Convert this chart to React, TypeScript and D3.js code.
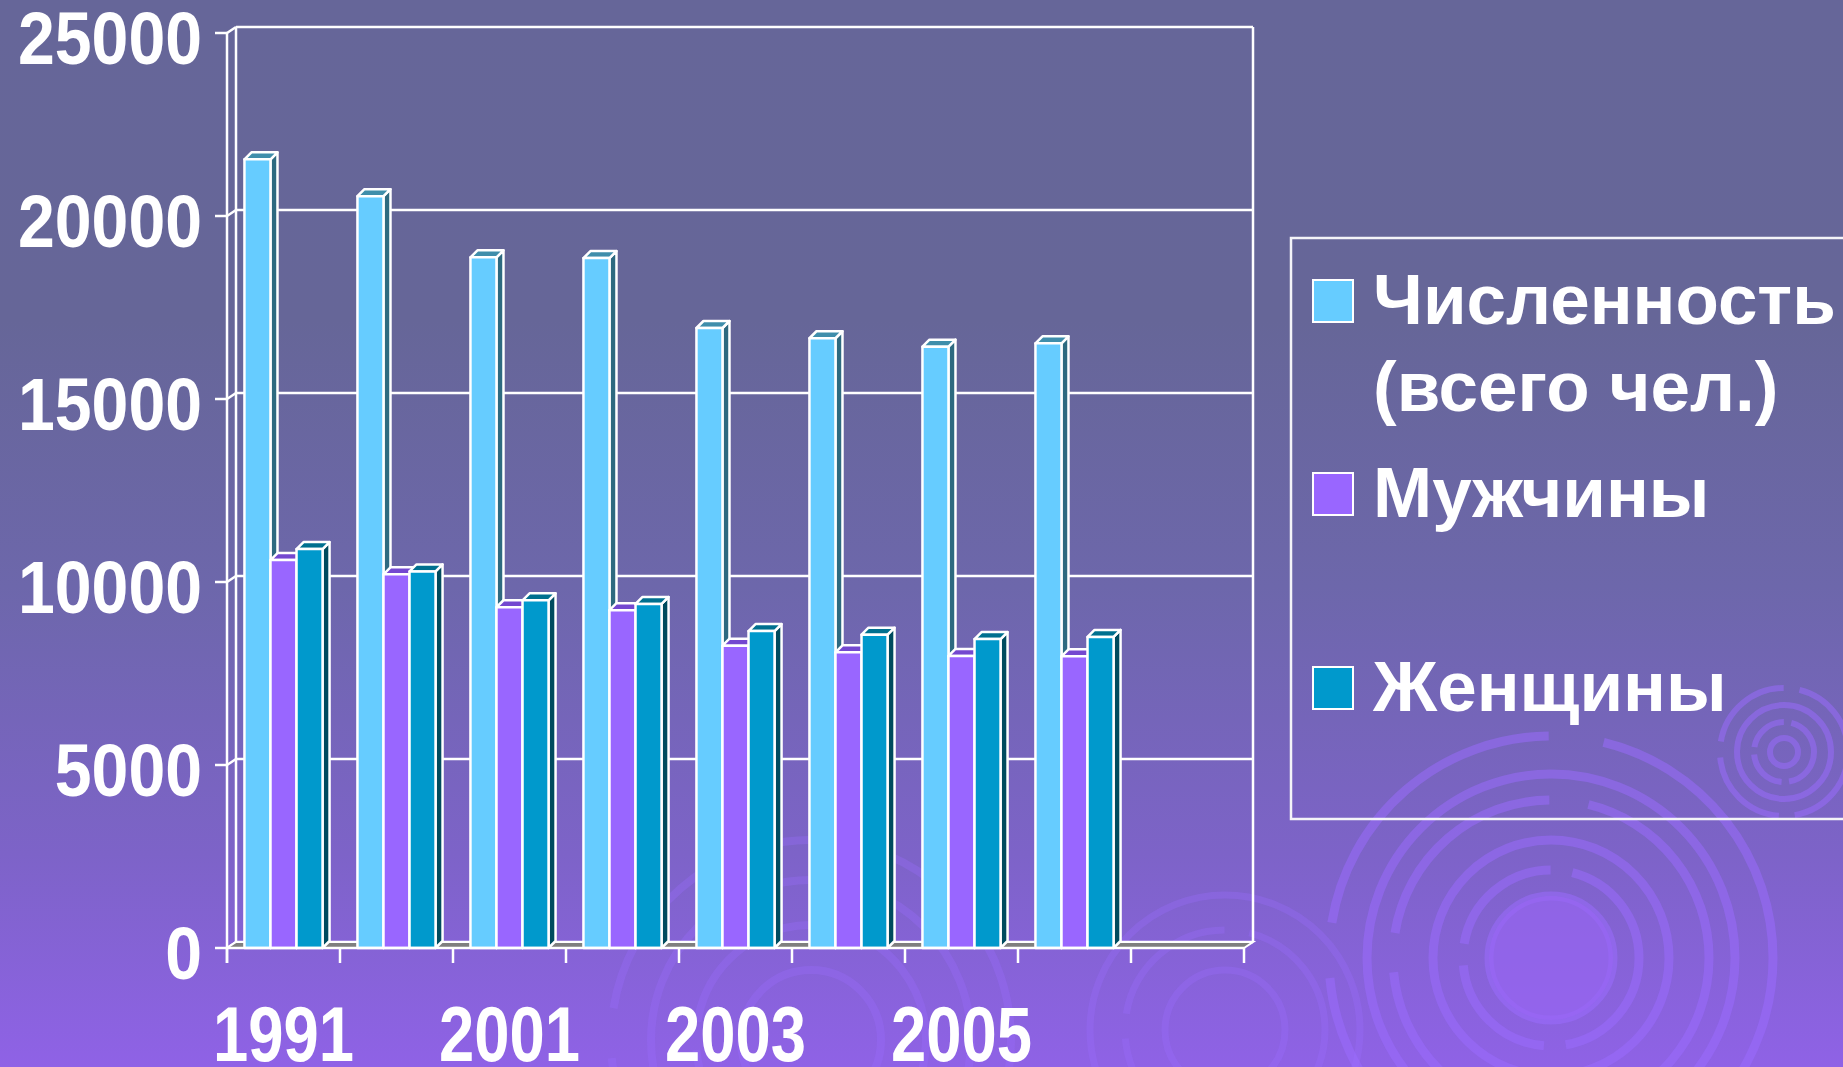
import { useEffect, useRef } from "react";
import * as d3 from "d3";

const years = ["1991", "2000", "2001", "2002", "2003", "2004", "2005", "2006", "2007"];
const labelledYears = ["1991", "2001", "2003", "2005"];
const seriesNames = ["Численность (всего чел.)", "Мужчины", "Женщины"];
const totalCount = [21550, 20540, 18870, 18850, 16940, 16660, 16430, 16520];
const menCount = [10600, 10210, 9310, 9230, 8260, 8080, 7980, 7970];
const womenCount = [10900, 10290, 9500, 9400, 8660, 8560, 8440, 8500];
const yTicks = [0, 5000, 10000, 15000, 20000, 25000];
const legendLines = [["Численность", "(всего чел.)"], ["Мужчины"], ["Женщины"]];

const palette: Record<string, { front: string; top: string; side: string }> = {
  "Численность (всего чел.)": { front: "#66CCFF", top: "#3F8EAB", side: "#2E6A80" },
  Мужчины: { front: "#9966FF", top: "#7448D0", side: "#5A37A8" },
  Женщины: { front: "#0099CC", top: "#00708F", side: "#004B5E" }
};

const font = "'Liberation Sans', Arial, sans-serif";

export default function App() {
  const svgRef = useRef<SVGSVGElement>(null);

  useEffect(() => {
    document.body.style.margin = "0";
    const svg = d3.select(svgRef.current);
    svg.selectAll("*").remove();

    const width = 1843;
    const height = 1067;
    const front = { left: 227, right: 1244, top: 33, bottom: 948 };
    const wall = { dx: 9, dy: -6 };
    const bar = { dx: 7, dy: -7 };

    const x = d3.scaleBand().domain(years).range([front.left, front.right]);
    const inner = d3
      .scaleBand()
      .domain(seriesNames)
      .range([0, x.bandwidth()])
      .paddingInner(0)
      .paddingOuter(0.67);
    const y = d3.scaleLinear().domain([0, 25000]).range([front.bottom, front.top]);

    const defs = svg.append("defs");
    const grad = defs
      .append("linearGradient")
      .attr("id", "bg")
      .attr("x1", 0)
      .attr("y1", 0)
      .attr("x2", 0)
      .attr("y2", 1);
    [
      [0, "#666699"],
      [0.3, "#666698"],
      [0.55, "#6d67ab"],
      [0.8, "#7d63c8"],
      [1, "#8f62e6"]
    ].forEach(([o, c]) => grad.append("stop").attr("offset", o as number).attr("stop-color", c as string));

    svg.append("rect").attr("width", width).attr("height", height).attr("fill", "url(#bg)");

    // decorative rings of the slide background
    const rings = svg.append("g").attr("fill", "none").attr("stroke", "#9b6cff");
    const ringSet = (cx: number, cy: number, radii: number[], sw: number, op: number) => {
      radii.forEach((r, i) => {
        rings
          .append("circle")
          .attr("cx", cx)
          .attr("cy", cy)
          .attr("r", r)
          .attr("stroke-width", sw)
          .attr("opacity", op)
          .attr("stroke-dasharray", i % 2 === 1 ? `${r * 1.4},${r * 0.25}` : null);
      });
    };
    svg
      .append("circle")
      .attr("cx", 1551)
      .attr("cy", 958)
      .attr("r", 62)
      .attr("fill", "#9a66f5")
      .attr("opacity", 0.6);
    ringSet(1551, 958, [62, 88, 118, 158, 184, 222], 9, 0.5);
    ringSet(1784, 752, [14, 30, 47, 64], 6, 0.5);
    ringSet(811, 1040, [70, 115, 160, 200], 8, 0.3);
    ringSet(1225, 1030, [60, 100, 135], 7, 0.3);

    // back wall and grid
    const wallLayer = svg.append("g").attr("stroke", "#ffffff").attr("stroke-width", 2.5).attr("fill", "none");
    yTicks.forEach((v) => {
      wallLayer
        .append("line")
        .attr("x1", front.left + wall.dx)
        .attr("x2", front.right + wall.dx)
        .attr("y1", y(v) + wall.dy)
        .attr("y2", y(v) + wall.dy);
      wallLayer
        .append("line")
        .attr("x1", front.left)
        .attr("x2", front.left + wall.dx)
        .attr("y1", y(v))
        .attr("y2", y(v) + wall.dy);
    });
    [front.left + wall.dx, front.right + wall.dx].forEach((xx) => {
      wallLayer
        .append("line")
        .attr("x1", xx)
        .attr("x2", xx)
        .attr("y1", y(25000) + wall.dy)
        .attr("y2", y(0) + wall.dy);
    });

    // floor
    svg
      .append("path")
      .attr(
        "d",
        `M${front.left},${y(0)} L${front.right},${y(0)} L${front.right + wall.dx},${y(0) + wall.dy} L${front.left + wall.dx},${y(0) + wall.dy} Z`
      )
      .attr("fill", "#7f7f7f")
      .attr("stroke", "#ffffff")
      .attr("stroke-width", 2);

    // bars
    const valuesBySeries = [totalCount, menCount, womenCount];
    const barLayer = svg
      .append("g")
      .attr("stroke", "#ffffff")
      .attr("stroke-width", 2.5)
      .attr("stroke-linejoin", "round");
    years.forEach((year, i) => {
      seriesNames.forEach((name, j) => {
        const v = valuesBySeries[j][i];
        if (v === undefined) return;
        const c = palette[name];
        const x0 = (x(year) as number) + (inner(name) as number);
        const x1 = x0 + inner.bandwidth();
        const yt = y(v);
        const yb = y(0);
        barLayer
          .append("path")
          .attr("d", `M${x1},${yt} L${x1 + bar.dx},${yt + bar.dy} L${x1 + bar.dx},${yb + bar.dy} L${x1},${yb} Z`)
          .attr("fill", c.side);
        barLayer
          .append("path")
          .attr("d", `M${x0},${yt} L${x0 + bar.dx},${yt + bar.dy} L${x1 + bar.dx},${yt + bar.dy} L${x1},${yt} Z`)
          .attr("fill", c.top);
        barLayer
          .append("rect")
          .attr("x", x0)
          .attr("y", yt)
          .attr("width", x1 - x0)
          .attr("height", yb - yt)
          .attr("fill", c.front);
      });
    });

    // axes
    const axis = svg.append("g").attr("stroke", "#ffffff").attr("stroke-width", 2.5);
    axis
      .append("line")
      .attr("x1", front.left)
      .attr("x2", front.left)
      .attr("y1", y(25000))
      .attr("y2", y(0) + 15);
    axis
      .append("line")
      .attr("x1", front.left)
      .attr("x2", front.right)
      .attr("y1", y(0))
      .attr("y2", y(0));
    yTicks.forEach((v) => {
      axis
        .append("line")
        .attr("x1", front.left - 12)
        .attr("x2", front.left)
        .attr("y1", y(v))
        .attr("y2", y(v));
    });
    [...years.map((yr) => x(yr) as number), front.right].forEach((xx) => {
      axis
        .append("line")
        .attr("x1", xx)
        .attr("x2", xx)
        .attr("y1", y(0))
        .attr("y2", y(0) + 15);
    });

    // tick labels
    svg
      .append("g")
      .selectAll("text")
      .data(yTicks)
      .join("text")
      .attr("x", 202)
      .attr("y", (d) => y(d) + 31)
      .attr("text-anchor", "end")
      .attr("textLength", (d) => String(d).length * 36.8)
      .attr("lengthAdjust", "spacingAndGlyphs")
      .attr("fill", "#ffffff")
      .attr("font-family", font)
      .attr("font-weight", "bold")
      .attr("font-size", 74)
      .text((d) => d);

    svg
      .append("g")
      .selectAll("text")
      .data(years.filter((yr) => labelledYears.includes(yr)))
      .join("text")
      .attr("x", (d) => (x(d) as number) + x.bandwidth() / 2 - 70.5)
      .attr("y", 1061)
      .attr("textLength", 141)
      .attr("lengthAdjust", "spacingAndGlyphs")
      .attr("fill", "#ffffff")
      .attr("font-family", font)
      .attr("font-weight", "bold")
      .attr("font-size", 78)
      .text((d) => d);

    // legend
    const legend = svg.append("g");
    legend
      .append("rect")
      .attr("x", 1291)
      .attr("y", 238)
      .attr("width", 600)
      .attr("height", 581)
      .attr("fill", "none")
      .attr("stroke", "#f4f4f8")
      .attr("stroke-width", 2.5);
    const baselines = [[324, 411], [517], [711]];
    seriesNames.forEach((name, j) => {
      const b = baselines[j][0];
      legend
        .append("rect")
        .attr("x", 1313)
        .attr("y", b - 44)
        .attr("width", 40)
        .attr("height", 42)
        .attr("fill", palette[name].front)
        .attr("stroke", "#ffffff")
        .attr("stroke-width", 2);
      legendLines[j].forEach((line, k) => {
        legend
          .append("text")
          .attr("x", 1373)
          .attr("y", baselines[j][k])
          .attr("fill", "#ffffff")
          .attr("font-family", font)
          .attr("font-weight", "bold")
          .attr("font-size", 71)
          .text(line);
      });
    });
  }, []);

  return (
    <svg
      ref={svgRef}
      width={1843}
      height={1067}
      style={{ position: "fixed", left: 0, top: 0, display: "block" }}
    />
  );
}
